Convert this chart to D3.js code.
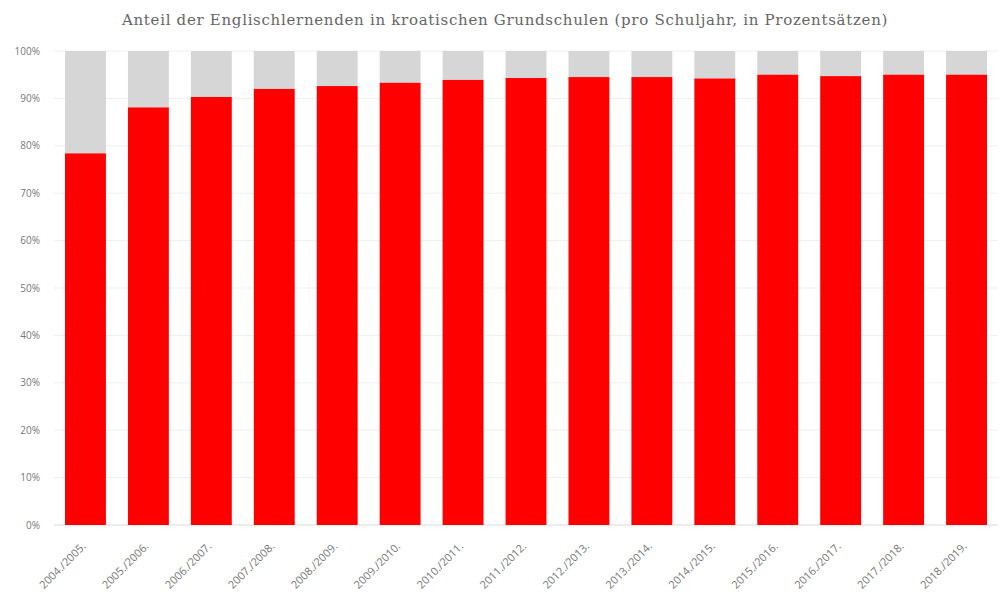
<!DOCTYPE html>
<html><head><meta charset="utf-8">
<script src="https://cdn.jsdelivr.net/npm/d3@7"></script>
<style>body{margin:0;background:#fff;} svg{display:block;}</style>
</head><body>
<svg id="c" width="1003" height="596"></svg>
<script>
const categories = ["2004./2005.","2005./2006.","2006./2007.","2007./2008.","2008./2009.","2009./2010.","2010./2011.","2011./2012.","2012./2013.","2013./2014.","2014./2015.","2015./2016.","2016./2017.","2017./2018.","2018./2019."];
const englishShare = [78.4, 88.1, 90.3, 92.0, 92.6, 93.3, 93.9, 94.3, 94.5, 94.5, 94.2, 95.0, 94.7, 95.0, 95.0];
const yTicks = [0,10,20,30,40,50,60,70,80,90,100];
const titleText = "Anteil der Englischlernenden in kroatischen Grundschulen (pro Schuljahr, in Prozentsätzen)";

const svg = d3.select("#c");
const m = {left:54, right:5, top:51, bottom:71};
const W = 1003, H = 596;
const x = d3.scaleBand().domain(categories).range([m.left, W - m.right]).paddingInner(0.35).paddingOuter(0.175);
const y = d3.scaleLinear().domain([0,100]).range([H - m.bottom, m.top]);

// gridlines
svg.append("g").selectAll("line").data(yTicks).join("line")
  .attr("x1", m.left).attr("x2", W - m.right)
  .attr("y1", d => y(d)).attr("y2", d => y(d))
  .attr("stroke", d => d === 0 ? "#d9d9d9" : "#efefef").attr("stroke-width", 1);

// y labels
svg.append("g").selectAll("text").data(yTicks).join("text")
  .attr("x", 40).attr("y", d => y(d)).attr("dy", "0.35em")
  .attr("text-anchor", "end")
  .attr("font-family", "Open Sans, sans-serif").attr("font-size", 10)
  .attr("fill", "#777").text(d => d + "%");

// background (rest) bars
svg.append("g").selectAll("rect").data(categories).join("rect")
  .attr("x", d => x(d)).attr("width", x.bandwidth())
  .attr("y", y(100)).attr("height", (d, i) => y(englishShare[i]) - y(100))
  .attr("fill", "#d6d6d6");

// red bars
svg.append("g").selectAll("rect").data(englishShare).join("rect")
  .attr("x", (d, i) => x(categories[i])).attr("width", x.bandwidth())
  .attr("y", d => y(d)).attr("height", d => y(0) - y(d))
  .attr("fill", "#ff0000");

// x labels
svg.append("g").selectAll("text").data(categories).join("text")
  .attr("transform", d => `translate(${x(d) + x.bandwidth()/2 + 1},${y(0) + 22}) rotate(-45)`)
  .attr("text-anchor", "end")
  .attr("font-family", "Open Sans, sans-serif").attr("font-size", 11)
  .attr("fill", "#777").text(d => d);

// title
svg.append("text").attr("x", 505).attr("y", 25).attr("text-anchor", "middle")
  .attr("font-family", "DejaVu Serif, serif").attr("font-size", 15)
  .attr("letter-spacing", 0.7)
  .attr("fill", "#666").text(titleText);
</script>
</body></html>
